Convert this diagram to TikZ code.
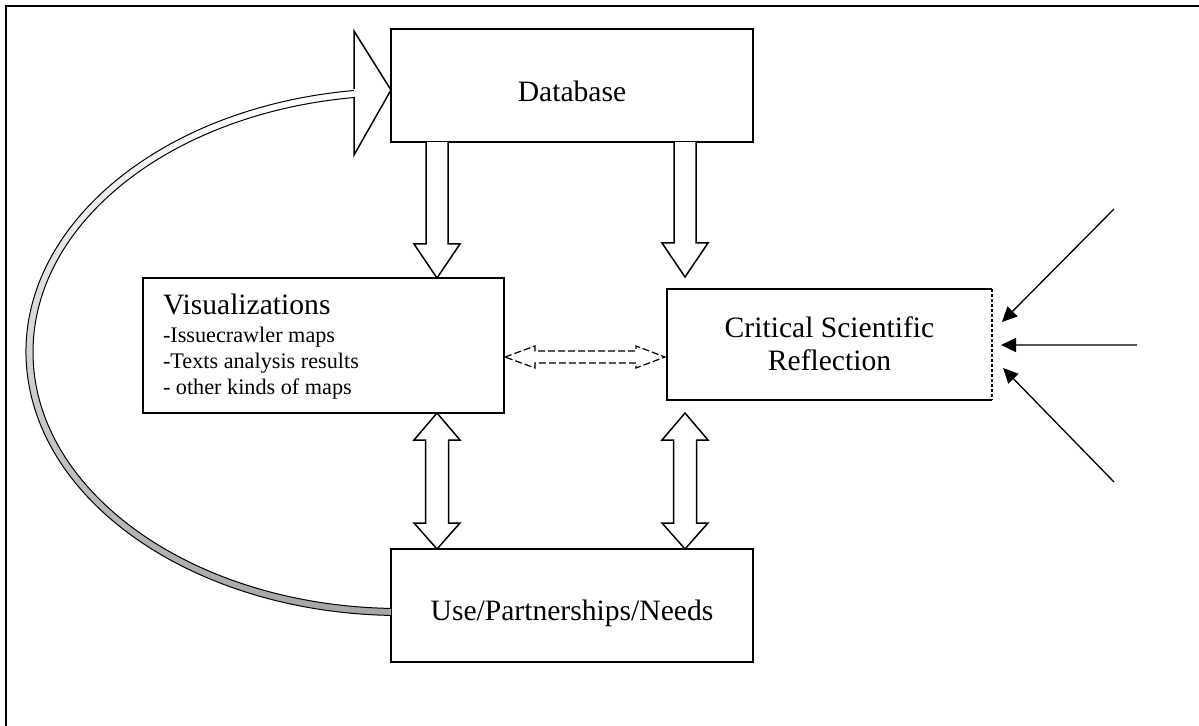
\documentclass[tikz,border=0pt]{standalone}
\usepackage{fontspec}
\setmainfont{Liberation Serif}
\usetikzlibrary{calc,arrows.meta}
\newcommand\bdown[3]{\draw[blk] let \p1=(#2), \p2=(#3) in
 (#1bp-11bp,\y1) -- (#1bp-11bp,\y2+34bp) -- (#1bp-23bp,\y2+34bp) -- (#1bp,\y2) -- (#1bp+23bp,\y2+34bp) -- (#1bp+11bp,\y2+34bp) -- (#1bp+11bp,\y1);}
\newcommand\bboth[3]{\draw[blk] let \p1=(#2), \p2=(#3) in
 (#1bp,\y1) -- (#1bp+23bp,\y1-27bp) -- (#1bp+11.5bp,\y1-27bp) -- (#1bp+11.5bp,\y2+26bp) -- (#1bp+23bp,\y2+26bp) -- (#1bp,\y2) -- (#1bp-23bp,\y2+26bp) -- (#1bp-11.5bp,\y2+26bp) -- (#1bp-11.5bp,\y1-27bp) -- (#1bp-23bp,\y1-27bp) -- cycle;}
\begin{document}
\begin{tikzpicture}[x=1bp,y=-1bp,
  box/.style={draw, line width=1.6bp, inner sep=0pt, outer sep=0pt},
  blk/.style={draw, line width=1.5bp, fill=white, line join=miter},
  lbl/.style={inner sep=0pt, outer sep=0pt, font=\fontsize{29.7}{34}\selectfont},
  inarrow/.style={line width=1.3bp, -{Triangle[length=15bp,width=14bp]}},
  bandline/.style={line width=1bp},
]
\useasboundingbox (0,0) rectangle (1199,726);
% frame
\draw[line width=2bp] (6,726) -- (6,6) -- (1199,6);

% boxes
\node[box, minimum width=362bp, minimum height=113bp] (db) at (572,85.5) {};
\node[box, minimum width=361bp, minimum height=135bp] (vis) at (323.5,345.5) {};
\node[inner sep=0pt, outer sep=0pt, minimum width=325bp, minimum height=111bp] (crit) at (829.5,344.5) {};
\draw[line width=1.6bp] (crit.north east) -- (crit.north west) -- (crit.south west) -- (crit.south east);
\draw[line width=1.6bp, dash pattern=on 3bp off 2bp] (crit.north east) -- (crit.south east);
\node[box, minimum width=362bp, minimum height=113bp] (use) at (572,605.5) {};

% labels
\node[lbl, anchor=base] (dbt) at (572,101.5) {Database};
\node[lbl, anchor=base] (uset) at (572,620.5) {Use/Partnerships/Needs};
\node[lbl, anchor=base] (critt) at (829.5,337) {\parbox[t]{320bp}{\centering Critical Scientific\\Reflection}};
\node[anchor=base west, inner sep=0pt, outer sep=0pt] (vist) at (163,314.5) {\parbox[t]{330bp}{\raggedright\fontsize{29.7}{34}\selectfont Visualizations\par\vspace{2bp}\fontsize{22.3}{26}\selectfont -Issuecrawler maps\par -Texts analysis results\par - other kinds of maps\par}};

% block arrows
\bdown{437}{db.south}{vis.north}
\bdown{685}{db.south}{$(crit.north)+(0,-12)$}
\bboth{437}{vis.south}{use.north}
\bboth{685}{$(crit.south)+(0,13)$}{use.north}

% dashed double arrow
\draw[line width=1.2bp, dash pattern=on 7bp off 3bp, fill=white] let \p1=(vis.east), \p2=(crit.west) in
 (\x1+1bp,-357bp) -- (\x1+31bp,-346bp) -- (\x1+31bp,-351bp) -- (\x2-31bp,-351bp) -- (\x2-31bp,-346bp) -- (\x2-2bp,-357bp) -- (\x2-31bp,-368bp) -- (\x2-31bp,-363bp) -- (\x1+31bp,-363bp) -- (\x1+31bp,-368bp) -- cycle;

% incoming arrows on the right
\coordinate (s1) at (1114,209);
\coordinate (s2) at (1137,345);
\coordinate (s3) at (1114,482);
\draw[inarrow] (s1) -- ($(crit.east)+(10,-22.5)$);
\draw[inarrow] (s2) -- ($(crit.east)+(9,0.5)$);
\draw[inarrow] (s3) -- ($(crit.east)+(11,23.5)$);

% curved feedback arrow from use to db
\shade[top color=white, bottom color=black!35]
  (354.42,90.46) arc[start angle=263, end angle=91.4, x radius=374, y radius=263.5]
  -- (391.03,608.42) arc[start angle=91.4, end angle=263, x radius=367, y radius=256.5] -- cycle;
\draw[bandline] (354.42,90.46) arc[start angle=263, end angle=91.4, x radius=374, y radius=263.5];
\draw[bandline] (391.03,608.42) arc[start angle=91.4, end angle=263, x radius=367, y radius=256.5];
\coordinate (tip) at ($(db.west)+(0,4.5)$);
\draw[line width=1.5bp, fill=white, line join=miter]
  ($(tip)+(-37,-1)$) -- ($(tip)+(-37,-59)$) -- (tip) -- ($(tip)+(-37,65)$) -- ($(tip)+(-37,7)$);
\end{tikzpicture}
\end{document}
